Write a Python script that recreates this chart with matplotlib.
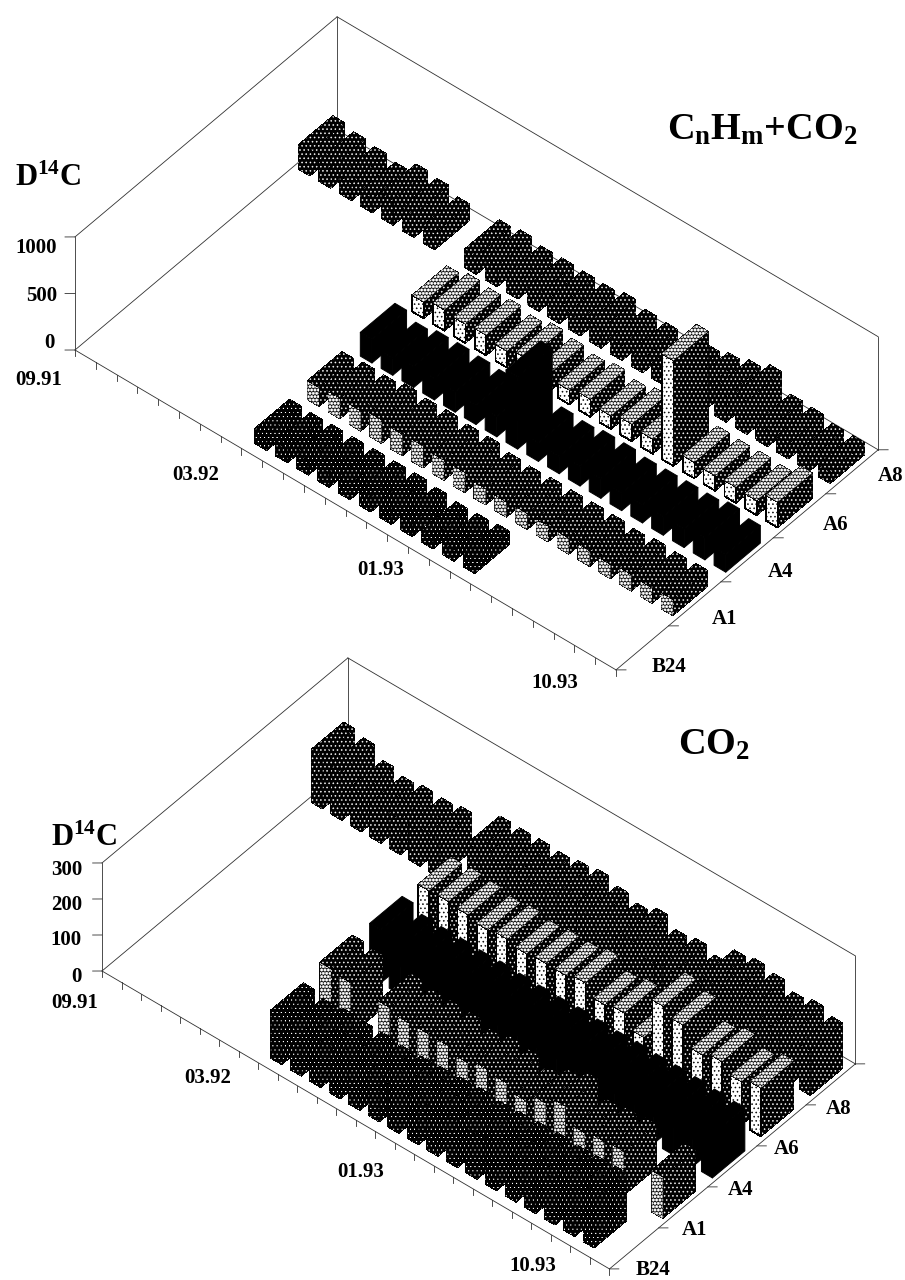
import numpy as np
import matplotlib
matplotlib.use('Agg')
import matplotlib.pyplot as plt
from matplotlib import hatch as mhatch
from mpl_toolkits.mplot3d import proj3d
from mpl_toolkits.mplot3d.art3d import Poly3DCollection

plt.rcParams['font.family'] = ['Liberation Serif', 'DejaVu Serif']
plt.rcParams['font.weight'] = 'bold'
plt.rcParams['mathtext.fontset'] = 'custom'
plt.rcParams['mathtext.rm'] = 'Liberation Serif:bold'
plt.rcParams['mathtext.it'] = 'Liberation Serif:bold'
plt.rcParams['mathtext.bf'] = 'Liberation Serif:bold'
plt.rcParams['mathtext.default'] = 'rm'
plt.rcParams['hatch.linewidth'] = 0.35

# dot sizes of the halftone screen: '.' normal, 'o' small, 'O' big and filled
mhatch.SmallFilledCircles.size = 0.14
mhatch.SmallCircles.size = 0.06
mhatch.LargeCircles.size = 0.36
mhatch.LargeCircles.filled = True

W, H = 905, 1280
N = None

rows = ['B24', 'A1', 'A4', 'A6', 'A8']

########## UPPER PANEL (CnHm+CO2) ##############################################

top_b24 = [N, N, N, N, N, N, N, N, 136, 127, 133, 133, 136, 136, 139, 121, 100, 106, 118,
           N, N, N, N, N, N, N]
top_a1 = [N, N, N, N, N, N, N, N, 168, 183, 180, 209, 192, 198, 180, 180, 145, 136, 145,
          142, 145, 142, 127, 147, 139, 145]
top_a4 = [N, N, N, N, N, N, N, N, 210, 152, 186, 190, 180, 170, 180, 640, 165, 153, 174,
          174, 156, 160, 165, 165, 195, 156]
top_a6 = [N, N, N, N, N, N, N, N, 147, 187, 170, 181, 149, 187, 160, 130, 159, 121, 156,
          133, 935, 145, 136, 142, 133, 227]
top_a8 = [215, 182, 160, 130, 224, 206, 150, N, 165, 185, 152, 155, 149, 145, 174, 136,
          127, 130, 150, 189, 233, 298, 147, 139, 106, 106]
top_zticks = [0, 500, 1000]

########## LOWER PANEL (CO2) ###################################################

low_b24 = [N, N, N, N, N, N, N, N, 134, 122, 128, 125, 125, 120, 122, 125, 128, 130, 125,
           128, 130, 132, 130, 132, 134, N]
low_a1 = [N, N, N, N, N, N, N, N, 153, 146, N, 141, 130, 131, 130, 115, 128, 122, 104,
          130, 153, 111, 119, 123, N, 116]
low_a4 = [N, N, N, N, N, N, N, N, 148, 130, 128, 128, 126, 128, 126, 125, 125, 128, 126,
          125, 127, 125, 126, 125, 122, 120]
low_a6 = [N, N, N, N, N, N, N, N, 142, 144, 139, 129, 135, 126, 131, 130, 141, 112, 121,
          85, 203, 183, 132, 145, 121, 135]
low_a8 = [148, 136, 105, 93, 100, 97, 105, N, 142, 141, 142, 139, 146, 153, 138, 123, 141,
          113, 121, 106, 152, 161, 151, 131, 141, 126]
low_zticks = [0, 100, 200, 300]

################## FACE STYLES #################################################

# (face colour, dot colour, hatch)
dark = ('black', 'white', '....')
fine = ('black', 'white', 'oooo')
solid = ('black', 'black', None)
light = ('white', 'black', '....')
check = ('black', 'white', 'OOOOO')

# top, narrow side, long side, for each row
row_styles = {
    'B24': (fine, fine, fine),
    'A1': (dark, check, dark),
    'A4': (solid, solid, solid),
    'A6': (check, light, dark),
    'A8': (dark, dark, dark),
}

fig = plt.figure(figsize=(W / 100, H / 100), dpi=100, facecolor='white')


def add_face(ax, verts, style, order):
    face, dots, hatch = style
    if face == 'white':
        lw = 0.5
    elif hatch is None:
        lw = 0.7
    else:
        lw = 0.0
    poly = Poly3DCollection([verts], facecolors=face, edgecolors=dots, linewidths=lw,
                            hatch=hatch, antialiaseds=False)
    poly.set_zorder(order)
    ax.add_collection3d(poly, autolim=False)


def add_bar(ax, i, k, h, styles, order):
    u0, u1 = i + 0.22, i + 0.78
    v0, v1 = k + 0.17, k + 0.83
    st_top, st_narrow, st_long = styles
    add_face(ax, [(u1, v0, 0), (u1, v1, 0), (u1, v1, h), (u1, v0, h)], st_long, order)
    add_face(ax, [(u0, v0, 0), (u1, v0, 0), (u1, v0, h), (u0, v0, h)], st_narrow, order)
    add_face(ax, [(u0, v0, h), (u1, v0, h), (u1, v1, h), (u0, v1, h)], st_top, order)


def project(ax, x, y, z):
    xs, ys, _ = proj3d.proj_transform(x, y, z, ax.get_proj())
    return ax.transData.transform((xs, ys))


def panel(series, zticks, zmax, box, elev, origin, xend, ztick_len, side):
    # origin and xend are the two ends of the date axis, in image pixels
    ax = fig.add_axes([0.0, 0.0, side / W, side / H], projection='3d', computed_zorder=False)
    ax.patch.set_alpha(0)
    ax.set_axis_off()
    ax.view_init(elev=elev, azim=-50)
    ax.set_proj_type('ortho')
    ax.set_xlim(0, 26)
    ax.set_ylim(0, 5)
    ax.set_zlim(0, zmax)

    line = dict(color='#303030', lw=0.6, zorder=1)
    for xs, ys, zs in [([0, 26], [0, 0], [0, 0]), ([26, 26], [0, 5], [0, 0]),
                       ([0, 0], [0, 5], [0, 0]), ([0, 26], [5, 5], [0, 0]),
                       ([0, 0], [0, 0], [0, zmax]), ([0, 0], [5, 5], [0, zmax]),
                       ([26, 26], [5, 5], [0, zmax]), ([0, 0], [0, 5], [zmax, zmax]),
                       ([0, 26], [5, 5], [zmax, zmax])]:
        ax.plot(xs, ys, zs, **line)
    # date ticks hang straight down, row and value ticks run level
    for i in range(27):
        ax.plot([i, i], [0, 0], [0, -ztick_len], **line)
    for k in range(6):
        ax.plot([26, 26.28], [k, k + 0.079], [0, 0], **line)
    for z in zticks:
        ax.plot([0, -0.28], [0, -0.079], [z, z], **line)

    for k in range(4, -1, -1):
        name = rows[k]
        for i, h in enumerate(series[name]):
            if h is not None:
                add_bar(ax, i, k, h, row_styles[name], 10 + (4 - k) * 100 + i)

    # fit the box onto the measured corners of the reference
    target0 = np.array([origin[0], H - origin[1]], dtype=float)
    target1 = np.array([xend[0], H - xend[1]], dtype=float)
    ax.set_box_aspect(box, zoom=1.0)
    ax.apply_aspect()
    p0, p1 = project(ax, 0, 0, 0), project(ax, 26, 0, 0)
    zoom = np.linalg.norm(target1 - target0) / np.linalg.norm(p1 - p0)
    ax.set_box_aspect(box, zoom=zoom)
    ax.apply_aspect()
    d = target0 - project(ax, 0, 0, 0)
    pos = ax.get_position()
    ax.set_position([pos.x0 + d[0] / W, pos.y0 + d[1] / H, pos.width, pos.height])
    return ax


panel({'B24': top_b24, 'A1': top_a1, 'A4': top_a4, 'A6': top_a6, 'A8': top_a8},
      top_zticks, 1000, (706, 407.6, 159.3), 44.8, (75, 350), (616, 670), 55, 1000)
panel({'B24': low_b24, 'A1': low_a1, 'A4': low_a4, 'A6': low_a6, 'A8': low_a8},
      low_zticks, 300, (661.5, 382, 151), 44.4, (102, 971), (610, 1268), 17, 1000)


def label(x, y, s, size=15, ha='left'):
    fig.text(x / W, 1 - y / H, s, fontsize=size, ha=ha, va='center', fontweight='bold', color='black')


################## TEXT UPPER ##################################################

label(15, 178, r'D$^{14}$C', 22)
label(667, 130, r'C$_{n}$H$_{m}$+CO$_{2}$', 27.5)
label(57, 248, '1000', ha='right')
label(57, 296, '500', ha='right')
label(55, 343, '0', ha='right')
label(15, 380, '09.91')
label(172, 475, '03.92')
label(357, 570, '01.93')
label(531, 683, '10.93')
label(652, 667, 'B24')
label(712, 619, 'A1')
label(768, 572, 'A4')
label(823, 525, 'A6')
label(878, 476, 'A8')

################## TEXT LOWER ##################################################

label(51, 838, r'D$^{14}$C', 22)
label(678, 745, r'CO$_{2}$', 27.5)
label(82, 870, '300', ha='right')
label(82, 905, '200', ha='right')
label(82, 940, '100', ha='right')
label(82, 977, '0', ha='right')
label(51, 1003, '09.91')
label(184, 1078, '03.92')
label(337, 1172, '01.93')
label(509, 1266, '10.93')
label(636, 1270, 'B24')
label(682, 1230, 'A1')
label(728, 1190, 'A4')
label(774, 1149, 'A6')
label(826, 1109, 'A8')

fig.savefig('out.png', dpi=100, facecolor='white')
